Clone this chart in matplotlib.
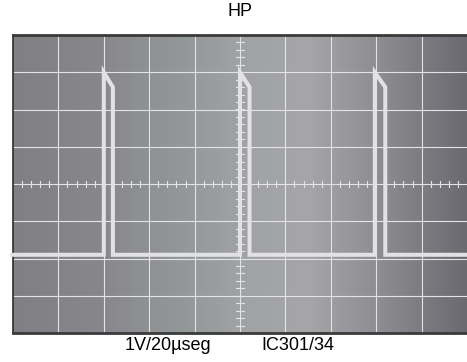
import matplotlib
matplotlib.use('Agg')
import matplotlib.pyplot as plt
import numpy as np
from matplotlib.colors import LinearSegmentedColormap

plt.rcParams['font.family'] = ['Liberation Sans', 'DejaVu Sans']

# Scope screen: 10 x 8 divisions
n_xdiv = 10
n_ydiv = 8

# Pulse train (divisions)
rise_t = [2.0, 5.0, 7.97]
fall_t = [2.2, 5.21, 8.2]
low_v = 2.1
high_v = 7.0
knee_v = 6.6

title = 'HP'
scale_label = '1V/20µseg'
point_label = 'IC301/34'

# Build the trace from the pulse edges
xs = [-0.06]
ys = [low_v]
for r, f in zip(rise_t, fall_t):
    xs += [r, r, f, f]
    ys += [low_v, high_v, knee_v, low_v]
xs.append(n_xdiv + 0.1)
ys.append(low_v)

fig = plt.figure(figsize=(4.67, 3.62), dpi=100)
ax = fig.add_axes([13 / 467, 29 / 362, 454 / 467, 298 / 362])

# Background gradient of the screen
screen = LinearSegmentedColormap.from_list('screen', [
    (0.0, (128/255, 128/255, 132/255)),
    (0.2, (136/255, 136/255, 140/255)),
    (0.4, (150/255, 154/255, 155/255)),
    (0.5, (160/255, 162/255, 163/255)),
    (0.65, (166/255, 166/255, 169/255)),
    (0.8, (142/255, 142/255, 147/255)),
    (1.0, (106/255, 106/255, 112/255)),
])
ax.imshow(np.linspace(0, 1, 256)[None, :], cmap=screen, aspect='auto',
          extent=[0, n_xdiv, 0, n_ydiv], zorder=0)

# Graticule
grid_col = '#e4e4e6'
for i in range(1, n_xdiv):
    ax.axvline(i, color=grid_col, lw=0.8, zorder=1)
for j in range(1, n_ydiv):
    ax.axhline(j, color=grid_col, lw=0.8, zorder=1)

# Minor ticks along the centre lines
cx, cy = n_xdiv / 2, n_ydiv / 2
for t in np.arange(0.2, n_xdiv, 0.2):
    ax.plot([t, t], [cy - 0.09, cy + 0.09], color=grid_col, lw=0.8, zorder=1)
for t in np.arange(0.2, n_ydiv, 0.2):
    ax.plot([cx - 0.08, cx + 0.08], [t, t], color=grid_col, lw=0.8, zorder=1)

# Trace
ax.plot(xs, ys, color='#e2e2e4', lw=2.9, solid_joinstyle='miter',
        solid_capstyle='butt', zorder=3, clip_on=False)

ax.set_xlim(0, n_xdiv)
ax.set_ylim(0, n_ydiv)
ax.set_xticks([])
ax.set_yticks([])
ax.spines['top'].set_color('#3a3a3a')
ax.spines['top'].set_linewidth(2)
ax.spines['bottom'].set_color('#3a3a3a')
ax.spines['bottom'].set_linewidth(2)
ax.spines['left'].set_color('#2e2e2e')
ax.spines['left'].set_linewidth(1.2)
ax.spines['right'].set_visible(False)

fig.text(240 / 467, 1 - 11 / 362, title, ha='center', va='center', fontsize=13)
fig.text(168 / 467, 1 - 346 / 362, scale_label, ha='center', va='center', fontsize=13)
fig.text(298 / 467, 1 - 346 / 362, point_label, ha='center', va='center', fontsize=13)

plt.savefig('out.png', dpi=100)
